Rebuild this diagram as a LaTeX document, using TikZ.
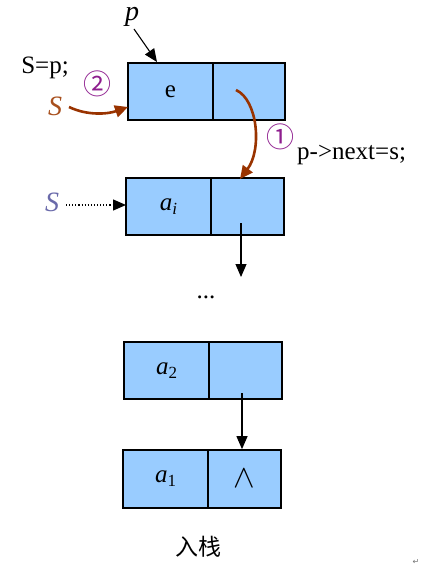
\documentclass[tikz,border=0pt]{standalone}
\usepackage{fontspec}
\setmainfont{Liberation Serif}
\newfontfamily\cjk{Noto Sans CJK SC}
\newfontfamily\dejavu{DejaVu Sans}
\usetikzlibrary{arrows.meta}
\definecolor{cellblue}{HTML}{99CCFF}
\definecolor{brownarrow}{HTML}{993300}
\definecolor{brownS}{HTML}{A8501E}
\definecolor{circpurple}{HTML}{8E1E8E}
\definecolor{slateS}{HTML}{6A6AAA}
\begin{document}
\begin{tikzpicture}[x=1pt,y=-1pt,
  cell/.style={draw, fill=cellblue, line width=1.7pt, inner sep=0pt,
    minimum height=57pt, font=\fontsize{25}{25}\selectfont},
  lcell/.style={cell, minimum width=85pt},
  rcell/.style={cell, minimum width=73pt},
  lbl/.style={inner sep=0pt, font=\fontsize{25}{25}\selectfont},
  itlbl/.style={inner sep=0pt, font=\fontsize{28}{28}\selectfont\itshape},
  circ/.style={inner sep=0pt, text=circpurple, font=\cjk\fontsize{28}{28}\selectfont},
  blackarrow/.style={line width=1.1pt, -{Triangle[length=13pt,width=11pt]}},
  brownarrowst/.style={draw=brownarrow, line width=2.6pt, -{Triangle[length=13pt,width=12pt]}},
]
\useasboundingbox (0,0) rectangle (421,567);

% nodes
\node[lcell] (eL) at (170.5,91.5) {e};
\node[rcell, minimum width=72pt] (eR) at (249,91.5) {};
\node[lcell] (aiL) at (168.5,206.5) {\textit{a}\raisebox{-0.35ex}{\fontsize{17}{17}\selectfont\textit{i}}};
\node[rcell] (aiR) at (247.5,206.5) {};
\node[lcell] (a2L) at (166.5,370.5) {\textit{a}\raisebox{-0.35ex}{\fontsize{17}{17}\selectfont 2}};
\node[rcell] (a2R) at (245.5,370.5) {};
\node[lcell, minimum height=58pt] (a1L) at (165.5,479) {\textit{a}\raisebox{-0.35ex}{\fontsize{17}{17}\selectfont 1}};
\node[rcell, minimum height=58pt] (a1R) at (244.5,479) {\scalebox{1.3}{$\wedge$}};

% labels
\node[itlbl, anchor=base] (p) at (132,21) {p};
\node[lbl] (Sp) at (45,68) {S=p;};
\node[circ] (c2) at (97,84) {②};
\node[itlbl, text=brownS] (Sb) at (55,106) {S};
\node[circ] (c1) at (280,137) {①};
\node[lbl, anchor=west] (pn) at (297,155) {p->next=s;};
\node[itlbl, text=slateS] (Ss) at (52,202) {S};
\node[lbl] (dots) at (206,297) {...};
\node[inner sep=0pt, font=\cjk\fontsize{23}{23}\selectfont] (push) at (198,547) {入栈};
\node[inner sep=0pt, text=black!55, font=\dejavu\fontsize{8}{8}\selectfont] (ret) at (416,562) {↵};

% coordinates
\coordinate (pStart) at (134,29);
\coordinate (pEnd) at (157,62);
\coordinate (eStart) at (236,90);
\coordinate (aiTop) at (240,179);
\coordinate (aiPtr) at (241,223);
\coordinate (aiEnd) at (241,277);
\coordinate (a2Ptr) at (242,393);
\coordinate (SbStart) at (69,107);
\coordinate (eLeft) at (128,107);
\coordinate (SsStart) at (66,205);
\coordinate (aiLeft) at (126,205);

% connectors
\draw[blackarrow] (pStart) -- (pEnd);
\draw[brownarrowst] (SbStart) .. controls (88,116) and (108,114) .. (eLeft);
\draw[brownarrowst] (eStart) .. controls (258,100) and (262,150) .. (aiTop);
\draw[blackarrow, dotted, line width=1.2pt] (SsStart) -- (aiLeft);
\draw[blackarrow] (aiPtr) -- (aiEnd);
\draw[blackarrow] (a2Ptr) -- (a2Ptr |- a1R.north);
\end{tikzpicture}
\end{document}
